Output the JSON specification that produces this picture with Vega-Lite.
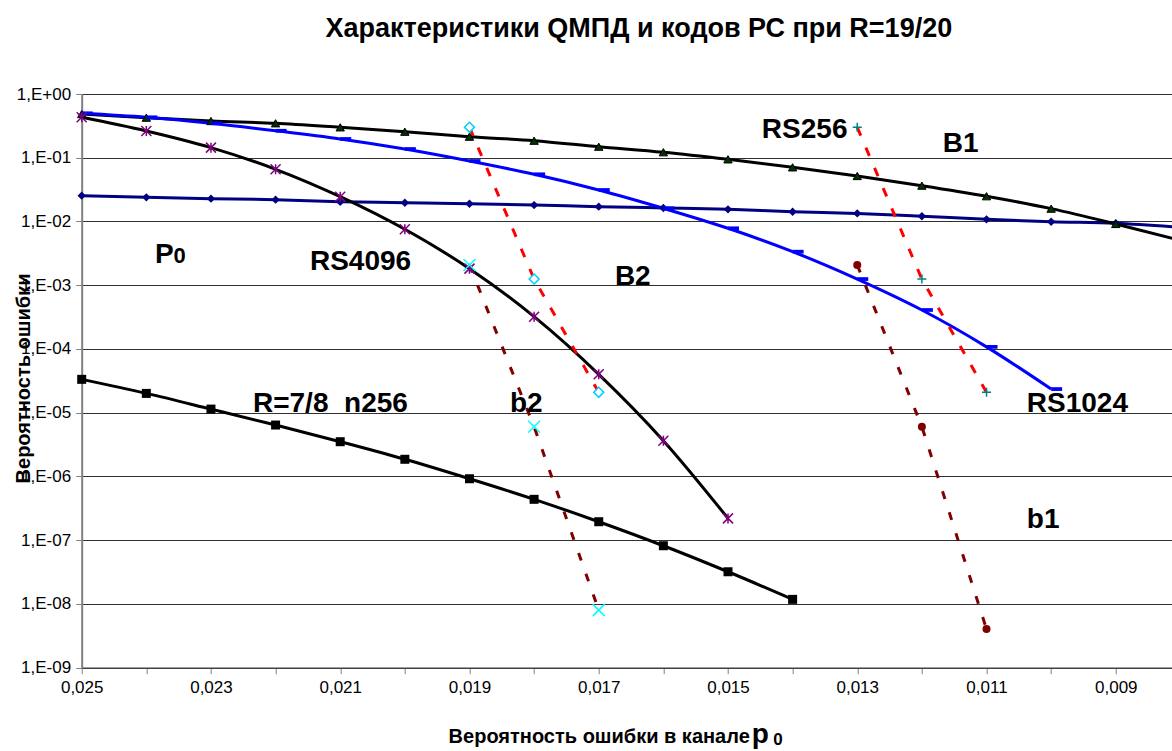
{
  "$schema": "https://vega.github.io/schema/vega-lite/v6.json",
  "autosize": {"type": "none"},
  "width": 1090.3,
  "height": 573.7,
  "padding": {"left": 81.7, "top": 94, "right": 0, "bottom": 83.3},
  "background": "white",
  "title": {"text": "Характеристики QMПД и кодов РС при R=19/20", "fontSize": 27, "fontWeight": "bold", "font": "Liberation Sans", "anchor": "middle", "dx": 12, "offset": 42, "color": "black"},
  "config": {
    "font": "Liberation Sans",
    "view": {"stroke": null},
    "axis": {"labelColor": "black", "titleColor": "black", "labelFont": "Liberation Sans", "titleFont": "Liberation Sans"}
  },
  "data": {"values": [
    {"s": "P0", "p": 0.025, "v": 0.0254}, {"s": "P0", "p": 0.024, "v": 0.0239}, {"s": "P0", "p": 0.023, "v": 0.0228}, {"s": "P0", "p": 0.022, "v": 0.0220}, {"s": "P0", "p": 0.021, "v": 0.0204}, {"s": "P0", "p": 0.020, "v": 0.0197}, {"s": "P0", "p": 0.019, "v": 0.0190}, {"s": "P0", "p": 0.018, "v": 0.0181}, {"s": "P0", "p": 0.017, "v": 0.0171}, {"s": "P0", "p": 0.016, "v": 0.0163}, {"s": "P0", "p": 0.015, "v": 0.0155}, {"s": "P0", "p": 0.014, "v": 0.0142}, {"s": "P0", "p": 0.013, "v": 0.0134}, {"s": "P0", "p": 0.012, "v": 0.0121}, {"s": "P0", "p": 0.011, "v": 0.0108}, {"s": "P0", "p": 0.010, "v": 0.0099}, {"s": "P0", "p": 0.009, "v": 0.0094}, {"s": "P0", "p": 0.008, "v": 0.0081},
    {"s": "B1", "p": 0.025, "v": 0.485}, {"s": "B1", "p": 0.024, "v": 0.425}, {"s": "B1", "p": 0.023, "v": 0.377}, {"s": "B1", "p": 0.022, "v": 0.347}, {"s": "B1", "p": 0.021, "v": 0.300}, {"s": "B1", "p": 0.020, "v": 0.256}, {"s": "B1", "p": 0.019, "v": 0.214}, {"s": "B1", "p": 0.018, "v": 0.185}, {"s": "B1", "p": 0.017, "v": 0.149}, {"s": "B1", "p": 0.016, "v": 0.122}, {"s": "B1", "p": 0.015, "v": 0.0944}, {"s": "B1", "p": 0.014, "v": 0.0707}, {"s": "B1", "p": 0.013, "v": 0.0517}, {"s": "B1", "p": 0.012, "v": 0.0365}, {"s": "B1", "p": 0.011, "v": 0.0249}, {"s": "B1", "p": 0.010, "v": 0.0159}, {"s": "B1", "p": 0.009, "v": 0.00915}, {"s": "B1", "p": 0.008, "v": 0.00505},
    {"s": "RS1024", "p": 0.025, "v": 0.498}, {"s": "RS1024", "p": 0.024, "v": 0.431}, {"s": "RS1024", "p": 0.023, "v": 0.347}, {"s": "RS1024", "p": 0.022, "v": 0.265}, {"s": "RS1024", "p": 0.021, "v": 0.197}, {"s": "RS1024", "p": 0.020, "v": 0.137}, {"s": "RS1024", "p": 0.019, "v": 0.0889}, {"s": "RS1024", "p": 0.018, "v": 0.0550}, {"s": "RS1024", "p": 0.017, "v": 0.0312}, {"s": "RS1024", "p": 0.016, "v": 0.0161}, {"s": "RS1024", "p": 0.015, "v": 0.00782}, {"s": "RS1024", "p": 0.014, "v": 0.00336}, {"s": "RS1024", "p": 0.013, "v": 0.00125}, {"s": "RS1024", "p": 0.012, "v": 0.000409}, {"s": "RS1024", "p": 0.011, "v": 0.000108}, {"s": "RS1024", "p": 0.010, "v": 0.0000235},
    {"s": "RS4096", "p": 0.025, "v": 0.431}, {"s": "RS4096", "p": 0.024, "v": 0.263}, {"s": "RS4096", "p": 0.023, "v": 0.144}, {"s": "RS4096", "p": 0.022, "v": 0.0659}, {"s": "RS4096", "p": 0.021, "v": 0.0245}, {"s": "RS4096", "p": 0.020, "v": 0.00754}, {"s": "RS4096", "p": 0.019, "v": 0.00182}, {"s": "RS4096", "p": 0.018, "v": 0.000321}, {"s": "RS4096", "p": 0.017, "v": 0.000040}, {"s": "RS4096", "p": 0.016, "v": 0.00000364}, {"s": "RS4096", "p": 0.015, "v": 0.00000022},
    {"s": "R78", "p": 0.025, "v": 3.34e-5}, {"s": "R78", "p": 0.024, "v": 2.01e-5}, {"s": "R78", "p": 0.023, "v": 1.14e-5}, {"s": "R78", "p": 0.022, "v": 6.41e-6}, {"s": "R78", "p": 0.021, "v": 3.51e-6}, {"s": "R78", "p": 0.020, "v": 1.86e-6}, {"s": "R78", "p": 0.019, "v": 9.21e-7}, {"s": "R78", "p": 0.018, "v": 4.38e-7}, {"s": "R78", "p": 0.017, "v": 1.95e-7}, {"s": "R78", "p": 0.016, "v": 8.19e-8}, {"s": "R78", "p": 0.015, "v": 3.20e-8}, {"s": "R78", "p": 0.014, "v": 1.18e-8},
    {"s": "B2", "p": 0.019, "v": 0.300}, {"s": "B2", "p": 0.018, "v": 0.00125}, {"s": "B2", "p": 0.017, "v": 2.09e-5},
    {"s": "RS256", "p": 0.013, "v": 0.300}, {"s": "RS256", "p": 0.012, "v": 0.00125}, {"s": "RS256", "p": 0.011, "v": 2.09e-5},
    {"s": "b2", "p": 0.019, "v": 0.00208}, {"s": "b2", "p": 0.018, "v": 6.03e-6}, {"s": "b2", "p": 0.017, "v": 8.0e-9},
    {"s": "b1", "p": 0.013, "v": 0.00208}, {"s": "b1", "p": 0.012, "v": 6.03e-6}, {"s": "b1", "p": 0.011, "v": 4.04e-9}
  ]},
  "encoding": {
    "x": {"field": "p", "type": "quantitative",
      "scale": {"domain": [0.025, 0.00813], "nice": false, "zero": false},
      "axis": {"values": [0.025, 0.024, 0.023, 0.022, 0.021, 0.020, 0.019, 0.018, 0.017, 0.016, 0.015, 0.014, 0.013, 0.012, 0.011, 0.010, 0.009],
        "labelExpr": "round(datum.value*1000) % 2 == 1 ? replace(format(datum.value, '.3f'), '.', ',') : ''",
        "grid": false, "tickSize": 6, "tickColor": "#808080", "tickWidth": 1, "domainColor": "#404040", "domainWidth": 1.5,
        "labelFontSize": 17, "labelPadding": 6, "labelFlush": false, "labelOverlap": false,
        "title": "Вероятность ошибки в канале", "titleFontSize": 20, "titleFontWeight": "bold",
        "titleX": 517, "titleY": 75, "titleAlign": "center", "titleBaseline": "alphabetic"}},
    "y": {"field": "v", "type": "quantitative",
      "scale": {"type": "log", "domain": [1e-9, 1], "nice": false},
      "axis": {"values": [1, 0.1, 0.01, 0.001, 0.0001, 0.00001, 0.000001, 0.0000001, 0.00000001, 0.000000001],
        "labelExpr": "'1,E' + (datum.value >= 0.5 ? '+00' : '-0' + format(-round(log(datum.value)/LN10), 'd'))",
        "grid": true, "gridColor": "#303030", "gridWidth": 1, "tickSize": 6, "tickColor": "#808080", "domainColor": "#808080", "domainWidth": 2,
        "labelFontSize": 17, "labelPadding": 5, "labelOverlap": false, "labelFlush": false,
        "title": "Вероятность ошибки", "titleFontSize": 20, "titleFontWeight": "bold",
        "titleX": -52, "titleY": 284, "titleAngle": -90, "titleAlign": "center", "titleBaseline": "alphabetic"}}
  },
  "layer": [
    {"transform": [{"filter": {"field": "s", "oneOf": ["P0", "B1", "RS1024", "RS4096", "R78"]}}],
     "mark": {"type": "line", "strokeWidth": 3, "interpolate": "monotone", "clip": true},
     "encoding": {
       "color": {"field": "s", "type": "nominal", "legend": null, "scale": {"domain": ["P0", "B1", "RS1024", "RS4096", "R78", "B2", "RS256", "b2", "b1"], "range": ["#000080", "#000000", "#0000FF", "#000000", "#000000", "#FF0000", "#FF0000", "#800000", "#800000"]}},
       "order": {"field": "p", "sort": "descending"}}},
    {"transform": [{"filter": {"field": "s", "oneOf": ["B2", "RS256", "b2", "b1"]}}],
     "mark": {"type": "line", "strokeWidth": 3, "clip": true},
     "encoding": {
       "color": {"field": "s", "type": "nominal", "legend": null, "scale": {"domain": ["P0", "B1", "RS1024", "RS4096", "R78", "B2", "RS256", "b2", "b1"], "range": ["#000080", "#000000", "#0000FF", "#000000", "#000000", "#FF0000", "#FF0000", "#800000", "#800000"]}},
       "strokeDash": {"field": "s", "type": "nominal", "legend": null, "scale": {"domain": ["B2", "RS256", "b2", "b1"], "range": [[9, 13], [9, 13], [8, 14], [8, 14]]}},
       "order": {"field": "p", "sort": "descending"}}},
    {"transform": [{"filter": {"field": "s", "equal": "P0"}}, {"filter": "datum.p > 0.0085"}],
     "mark": {"type": "point", "shape": "diamond", "filled": true, "color": "#000080", "size": 70, "opacity": 1}},
    {"transform": [{"filter": {"field": "s", "equal": "B1"}}, {"filter": "datum.p > 0.0085"}],
     "mark": {"type": "point", "shape": "triangle-up", "filled": true, "fill": "#003300", "stroke": "#000000", "strokeWidth": 1, "size": 70, "opacity": 1}},
    {"transform": [{"filter": {"field": "s", "equal": "RS1024"}}],
     "mark": {"type": "point", "shape": "M0,-0.17H1V0.17H0Z", "filled": true, "color": "#0000FF", "size": 484, "opacity": 1}},
    {"transform": [{"filter": {"field": "s", "equal": "RS4096"}}],
     "mark": {"type": "point", "shape": "M-1,-1L1,1M-1,1L1,-1M0,-1L0,1", "filled": false, "color": "#800080", "strokeWidth": 1.5, "size": 100, "opacity": 1}},
    {"transform": [{"filter": {"field": "s", "equal": "R78"}}],
     "mark": {"type": "point", "shape": "square", "filled": true, "color": "#000000", "size": 81, "opacity": 1}},
    {"transform": [{"filter": {"field": "s", "equal": "B2"}}],
     "mark": {"type": "point", "shape": "diamond", "filled": true, "fill": "#FFFFFF", "stroke": "#00CCFF", "strokeWidth": 1.5, "size": 100, "opacity": 1}},
    {"transform": [{"filter": {"field": "s", "equal": "RS256"}}],
     "mark": {"type": "point", "shape": "M-1,0H1M0,-1V1", "filled": false, "color": "#008080", "strokeWidth": 1.5, "size": 81, "opacity": 1}},
    {"transform": [{"filter": {"field": "s", "equal": "b2"}}],
     "mark": {"type": "point", "shape": "M-1,-1L1,1M-1,1L1,-1", "filled": false, "color": "#00FFFF", "strokeWidth": 1.5, "size": 144, "opacity": 1}},
    {"transform": [{"filter": {"field": "s", "equal": "b1"}}],
     "mark": {"type": "point", "shape": "circle", "filled": true, "color": "#800000", "size": 64, "opacity": 1}},
    {"data": {"values": [
       {"t": "P", "p": 0.023866, "v": 0.002233},
       {"t": "RS4096", "p": 0.021468, "v": 0.001733},
       {"t": "B2", "p": 0.01675, "v": 0.001008},
       {"t": "RS256", "p": 0.014476, "v": 0.2041},
       {"t": "B1", "p": 0.011676, "v": 0.1230},
       {"t": "R=7/8\u00a0 n256", "p": 0.02235, "v": 1.026e-5},
       {"t": "b2", "p": 0.018374, "v": 1.026e-5},
       {"t": "RS1024", "p": 0.010377, "v": 1.026e-5},
       {"t": "b1", "p": 0.010377, "v": 1.552e-7},
       {"t": "p", "p": 0.014631, "v": 6.58e-11}
     ]},
     "mark": {"type": "text", "align": "left", "baseline": "alphabetic", "fontSize": 28, "fontWeight": "bold", "font": "Liberation Sans", "color": "black"},
     "encoding": {"text": {"field": "t"}}},
    {"data": {"values": [{"t": "0", "p": 0.02358, "v": 0.002233}]},
     "mark": {"type": "text", "align": "left", "baseline": "alphabetic", "fontSize": 22, "fontWeight": "bold", "font": "Liberation Sans", "color": "black"},
     "encoding": {"text": {"field": "t"}}},
    {"data": {"values": [{"t": "0", "p": 0.014298, "v": 6.12e-11}]},
     "mark": {"type": "text", "align": "left", "baseline": "alphabetic", "fontSize": 17, "fontWeight": "bold", "font": "Liberation Sans", "color": "black"},
     "encoding": {"text": {"field": "t"}}}
  ]
}
